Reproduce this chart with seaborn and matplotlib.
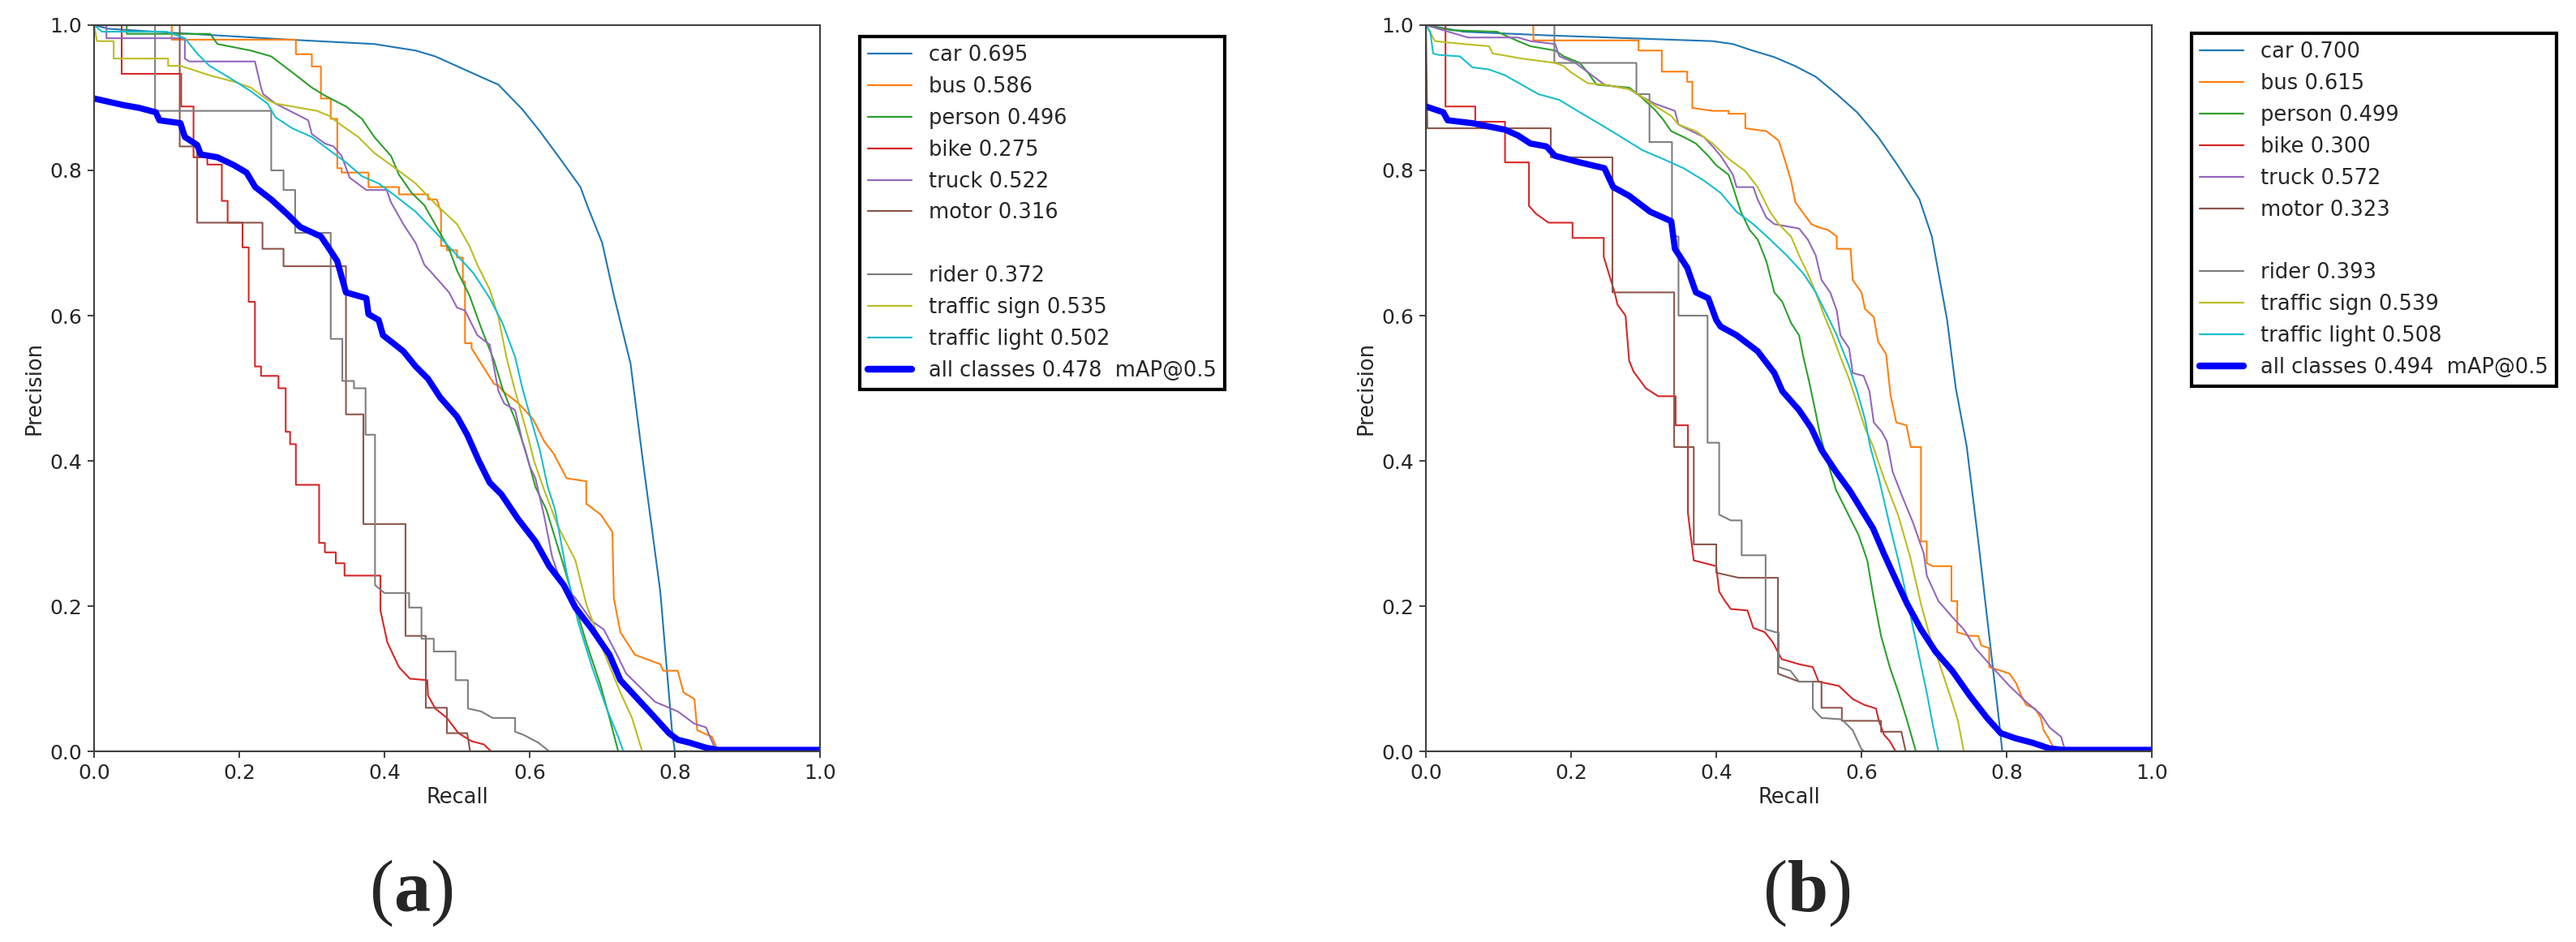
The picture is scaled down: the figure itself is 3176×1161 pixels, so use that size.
import numpy as np
import pandas as pd
import matplotlib
matplotlib.use("Agg")
import matplotlib.pyplot as plt
from matplotlib.lines import Line2D
import seaborn as sns

# %%

names = ['car', 'bus', 'person', 'bike', 'truck', 'motor', 'rider', 'traffic sign', 'traffic light']
ap_a = [0.695, 0.586, 0.496, 0.275, 0.522, 0.316, 0.372, 0.535, 0.502]
ap_b = [0.700, 0.615, 0.499, 0.300, 0.572, 0.323, 0.393, 0.539, 0.508]
map_a = 0.478
map_b = 0.494

# %%
# (recall, precision) points

a_car = [(0, 1.0), (0.02, 0.995), (0.1, 0.99), (0.27, 0.98), (0.386, 0.974), (0.443, 0.965), (0.47, 0.957),
         (0.53, 0.93), (0.557, 0.918), (0.59, 0.884), (0.614, 0.854), (0.642, 0.816), (0.67, 0.777), (0.68, 0.75),
         (0.70, 0.70), (0.716, 0.628), (0.739, 0.534), (0.756, 0.40), (0.78, 0.22), (0.796, 0.03), (0.80, 0.0), (1.0, 0.0)]
a_bus = [(0, 1.0), (0.107, 1.0), (0.107, 0.98), (0.278, 0.98), (0.278, 0.96), (0.30, 0.96), (0.30, 0.943), (0.3125, 0.943),
         (0.3125, 0.899), (0.326, 0.899), (0.326, 0.871), (0.335, 0.871), (0.335, 0.803), (0.341, 0.803), (0.341, 0.797),
         (0.378, 0.797), (0.378, 0.777), (0.42, 0.777), (0.42, 0.767), (0.46, 0.767), (0.46, 0.76), (0.472, 0.76),
         (0.478, 0.743), (0.478, 0.696), (0.486, 0.696), (0.486, 0.69), (0.5, 0.69), (0.5, 0.68), (0.508, 0.68),
         (0.508, 0.647), (0.511, 0.647), (0.511, 0.562), (0.52, 0.562), (0.52, 0.555), (0.551, 0.506), (0.557, 0.504),
         (0.563, 0.496), (0.585, 0.479), (0.605, 0.457), (0.62, 0.427), (0.633, 0.41), (0.651, 0.376), (0.678, 0.372),
         (0.678, 0.341), (0.698, 0.326), (0.714, 0.302), (0.716, 0.211), (0.725, 0.164), (0.745, 0.133), (0.78, 0.12),
         (0.784, 0.111), (0.804, 0.111), (0.812, 0.081), (0.827, 0.072), (0.831, 0.029), (0.851, 0.02), (0.86, 0.0), (1.0, 0.0)]
a_person = [(0, 1.0), (0.045, 1.0), (0.045, 0.988), (0.16, 0.988), (0.17, 0.974), (0.216, 0.965), (0.244, 0.957),
            (0.273, 0.935), (0.30, 0.914), (0.318, 0.903), (0.347, 0.888), (0.369, 0.871), (0.386, 0.846), (0.409, 0.82),
            (0.42, 0.794), (0.4375, 0.769), (0.455, 0.752), (0.472, 0.722), (0.489, 0.692), (0.50, 0.662), (0.517, 0.628),
            (0.534, 0.581), (0.551, 0.538), (0.5625, 0.50), (0.58, 0.457), (0.594, 0.415), (0.608, 0.364), (0.623, 0.333),
            (0.647, 0.255), (0.663, 0.20), (0.678, 0.15), (0.698, 0.09), (0.71, 0.046), (0.722, 0.0), (1.0, 0.0)]
a_bike = [(0, 1.0), (0.038, 1.0), (0.038, 0.933), (0.12, 0.933), (0.12, 0.888), (0.137, 0.888), (0.137, 0.818),
          (0.156, 0.818), (0.156, 0.808), (0.176, 0.808), (0.176, 0.758), (0.184, 0.758), (0.184, 0.728), (0.2045, 0.728),
          (0.2045, 0.694), (0.213, 0.694), (0.213, 0.619), (0.2216, 0.619), (0.2216, 0.53), (0.23, 0.53), (0.23, 0.517),
          (0.254, 0.517), (0.254, 0.50), (0.264, 0.50), (0.264, 0.44), (0.27, 0.44), (0.27, 0.423), (0.278, 0.423),
          (0.278, 0.367), (0.31, 0.367), (0.31, 0.287), (0.318, 0.287), (0.318, 0.274), (0.333, 0.274), (0.333, 0.259),
          (0.345, 0.259), (0.345, 0.242), (0.3945, 0.242), (0.3945, 0.194), (0.404, 0.15), (0.412, 0.133), (0.42, 0.116),
          (0.435, 0.10), (0.459, 0.098), (0.46, 0.077), (0.47, 0.059), (0.486, 0.046), (0.502, 0.025), (0.52, 0.014),
          (0.537, 0.0095), (0.547, 0.0), (1.0, 0.0)]
a_truck = [(0, 1.0), (0.017, 1.0), (0.017, 0.982), (0.125, 0.982), (0.125, 0.954), (0.131, 0.95), (0.2216, 0.95),
           (0.23, 0.914), (0.233, 0.905), (0.25, 0.892), (0.295, 0.869), (0.30, 0.85), (0.318, 0.837), (0.33, 0.833),
           (0.341, 0.82), (0.352, 0.79), (0.375, 0.773), (0.403, 0.773), (0.409, 0.756), (0.426, 0.726), (0.443, 0.70),
           (0.455, 0.67), (0.466, 0.658), (0.489, 0.632), (0.50, 0.611), (0.511, 0.607), (0.528, 0.573), (0.545, 0.56),
           (0.557, 0.496), (0.565, 0.479), (0.58, 0.47), (0.59, 0.427), (0.60, 0.393), (0.608, 0.376), (0.62, 0.324),
           (0.631, 0.268), (0.643, 0.233), (0.663, 0.211), (0.686, 0.179), (0.702, 0.168), (0.718, 0.1375), (0.733, 0.107),
           (0.773, 0.068), (0.804, 0.055), (0.827, 0.038), (0.843, 0.033), (0.857, 0.0), (1.0, 0.0)]
a_motor = [(0, 1.0), (0.118, 1.0), (0.118, 0.833), (0.142, 0.833), (0.142, 0.728), (0.232, 0.728), (0.232, 0.692),
           (0.261, 0.692), (0.261, 0.668), (0.347, 0.668), (0.347, 0.464), (0.371, 0.464), (0.371, 0.313), (0.429, 0.313),
           (0.429, 0.159), (0.457, 0.159), (0.457, 0.06), (0.486, 0.06), (0.486, 0.025), (0.514, 0.025), (0.518, 0.0), (1.0, 0.0)]
a_rider = [(0, 1.0), (0.084, 1.0), (0.084, 0.882), (0.244, 0.882), (0.244, 0.80), (0.261, 0.80), (0.261, 0.773),
           (0.277, 0.773), (0.277, 0.714), (0.326, 0.714), (0.326, 0.568), (0.342, 0.568), (0.342, 0.51), (0.358, 0.51),
           (0.358, 0.50), (0.374, 0.50), (0.374, 0.436), (0.387, 0.436), (0.387, 0.229), (0.40, 0.218), (0.434, 0.218),
           (0.434, 0.198), (0.451, 0.198), (0.451, 0.155), (0.468, 0.155), (0.468, 0.1375), (0.498, 0.1375), (0.498, 0.098),
           (0.515, 0.098), (0.515, 0.059), (0.533, 0.055), (0.549, 0.046), (0.58, 0.046), (0.58, 0.027), (0.592, 0.0225),
           (0.612, 0.012), (0.627, 0.0), (1.0, 0.0)]
a_sign = [(0, 1.0), (0.004, 0.978), (0.027, 0.978), (0.027, 0.954), (0.102, 0.954), (0.102, 0.944), (0.119, 0.944),
          (0.159, 0.931), (0.193, 0.922), (0.216, 0.914), (0.239, 0.897), (0.25, 0.892), (0.273, 0.888), (0.307, 0.882),
          (0.324, 0.875), (0.341, 0.862), (0.364, 0.846), (0.386, 0.824), (0.415, 0.803), (0.443, 0.782), (0.472, 0.752),
          (0.50, 0.726), (0.517, 0.696), (0.528, 0.67), (0.545, 0.636), (0.557, 0.598), (0.568, 0.543), (0.58, 0.496),
          (0.597, 0.436), (0.606, 0.40), (0.62, 0.36), (0.639, 0.31), (0.663, 0.263), (0.678, 0.203), (0.702, 0.1375),
          (0.725, 0.081), (0.741, 0.046), (0.749, 0.02), (0.755, 0.0), (1.0, 0.0)]
a_light = [(0, 1.0), (0.011, 0.991), (0.10, 0.991), (0.125, 0.982), (0.142, 0.961), (0.159, 0.944), (0.1875, 0.927),
           (0.216, 0.909), (0.239, 0.892), (0.25, 0.873), (0.273, 0.858), (0.30, 0.846), (0.324, 0.828), (0.347, 0.811),
           (0.369, 0.792), (0.392, 0.782), (0.415, 0.765), (0.443, 0.743), (0.472, 0.713), (0.50, 0.683), (0.523, 0.658),
           (0.545, 0.624), (0.5625, 0.59), (0.58, 0.543), (0.59, 0.50), (0.602, 0.457), (0.614, 0.415), (0.625, 0.364),
           (0.635, 0.333), (0.651, 0.246), (0.667, 0.177), (0.686, 0.116), (0.706, 0.059), (0.722, 0.02), (0.729, 0.0), (1.0, 0.0)]
a_all = [(0, 0.899), (0.04, 0.89), (0.0625, 0.886), (0.085, 0.88), (0.09, 0.869), (0.119, 0.865), (0.125, 0.846),
         (0.142, 0.835), (0.147, 0.822), (0.17, 0.818), (0.193, 0.807), (0.21, 0.797), (0.222, 0.777), (0.244, 0.76),
         (0.267, 0.739), (0.284, 0.722), (0.3125, 0.709), (0.324, 0.692), (0.335, 0.675), (0.347, 0.632), (0.375, 0.624),
         (0.378, 0.602), (0.392, 0.594), (0.398, 0.573), (0.426, 0.551), (0.443, 0.53), (0.46, 0.513), (0.477, 0.487),
         (0.50, 0.461), (0.514, 0.436), (0.53, 0.40), (0.545, 0.37), (0.561, 0.354), (0.584, 0.32), (0.608, 0.289),
         (0.627, 0.255), (0.647, 0.229), (0.663, 0.198), (0.686, 0.168), (0.71, 0.133), (0.725, 0.098), (0.749, 0.072),
         (0.773, 0.046), (0.792, 0.025), (0.804, 0.016), (0.82, 0.012), (0.843, 0.005), (0.859, 0.002), (1.0, 0.002)]

# %%
# (recall, precision) points

b_car = [(0, 1.0), (0.052, 0.991), (0.166, 0.986), (0.28, 0.982), (0.395, 0.978), (0.423, 0.974), (0.45, 0.965),
         (0.48, 0.956), (0.508, 0.944), (0.537, 0.929), (0.566, 0.905), (0.594, 0.88), (0.623, 0.846), (0.65, 0.807),
         (0.68, 0.76), (0.697, 0.709), (0.708, 0.649), (0.718, 0.594), (0.73, 0.50), (0.745, 0.42), (0.761, 0.289),
         (0.776, 0.159), (0.79, 0.038), (0.794, 0.0), (1.0, 0.0)]
b_bus = [(0, 1.0), (0.148, 1.0), (0.148, 0.979), (0.293, 0.979), (0.293, 0.965), (0.325, 0.965), (0.325, 0.936),
         (0.36, 0.936), (0.36, 0.922), (0.367, 0.922), (0.367, 0.886), (0.395, 0.882), (0.417, 0.882), (0.417, 0.878),
         (0.44, 0.878), (0.44, 0.858), (0.469, 0.854), (0.486, 0.841), (0.494, 0.816), (0.503, 0.786), (0.509, 0.756),
         (0.531, 0.726), (0.54, 0.722), (0.554, 0.718), (0.566, 0.709), (0.566, 0.692), (0.585, 0.692), (0.588, 0.649),
         (0.60, 0.632), (0.605, 0.609), (0.617, 0.598), (0.623, 0.564), (0.634, 0.547), (0.64, 0.491), (0.648, 0.453),
         (0.662, 0.449), (0.668, 0.419), (0.682, 0.419), (0.682, 0.289), (0.69, 0.289), (0.69, 0.259), (0.698, 0.255),
         (0.724, 0.255), (0.724, 0.207), (0.732, 0.207), (0.732, 0.164), (0.749, 0.159), (0.761, 0.159), (0.765, 0.146),
         (0.776, 0.142), (0.776, 0.116), (0.792, 0.111), (0.804, 0.107), (0.813, 0.094), (0.82, 0.077), (0.827, 0.064),
         (0.839, 0.059), (0.847, 0.046), (0.851, 0.029), (0.859, 0.016), (0.867, 0.0), (1.0, 0.0)]
b_person = [(0, 1.0), (0.035, 0.993), (0.098, 0.991), (0.127, 0.978), (0.144, 0.971), (0.178, 0.965), (0.19, 0.957),
            (0.212, 0.948), (0.223, 0.935), (0.235, 0.918), (0.28, 0.914), (0.292, 0.905), (0.315, 0.884), (0.326, 0.871),
            (0.338, 0.854), (0.355, 0.846), (0.372, 0.837), (0.389, 0.82), (0.40, 0.807), (0.417, 0.794), (0.423, 0.777),
            (0.434, 0.743), (0.446, 0.718), (0.457, 0.705), (0.469, 0.675), (0.48, 0.632), (0.491, 0.619), (0.503, 0.59),
            (0.514, 0.573), (0.52, 0.543), (0.528, 0.509), (0.537, 0.466), (0.543, 0.436), (0.553, 0.40), (0.565, 0.36),
            (0.58, 0.33), (0.596, 0.298), (0.608, 0.263), (0.616, 0.216), (0.627, 0.159), (0.639, 0.116), (0.651, 0.081),
            (0.663, 0.042), (0.675, 0.0), (1.0, 0.0)]
b_bike = [(0, 1.0), (0.027, 1.0), (0.027, 0.888), (0.068, 0.888), (0.068, 0.867), (0.109, 0.867), (0.109, 0.811),
          (0.142, 0.811), (0.142, 0.751), (0.152, 0.74), (0.169, 0.728), (0.202, 0.728), (0.202, 0.707), (0.245, 0.707),
          (0.245, 0.681), (0.252, 0.658), (0.26, 0.632), (0.264, 0.615), (0.275, 0.60), (0.28, 0.538), (0.286, 0.523),
          (0.303, 0.50), (0.32, 0.489), (0.344, 0.489), (0.344, 0.449), (0.361, 0.449), (0.361, 0.328), (0.369, 0.263),
          (0.40, 0.255), (0.404, 0.22), (0.412, 0.207), (0.42, 0.196), (0.443, 0.194), (0.451, 0.17), (0.467, 0.164),
          (0.478, 0.15), (0.49, 0.127), (0.514, 0.12), (0.533, 0.116), (0.541, 0.096), (0.569, 0.09), (0.588, 0.072),
          (0.604, 0.064), (0.62, 0.059), (0.624, 0.042), (0.631, 0.023), (0.639, 0.014), (0.647, 0.0), (1.0, 0.0)]
b_truck = [(0, 1.0), (0.058, 0.983), (0.127, 0.983), (0.144, 0.978), (0.178, 0.974), (0.184, 0.957), (0.206, 0.948),
           (0.218, 0.939), (0.246, 0.918), (0.28, 0.912), (0.298, 0.901), (0.315, 0.892), (0.343, 0.882), (0.348, 0.863),
           (0.366, 0.854), (0.383, 0.846), (0.395, 0.833), (0.406, 0.82), (0.423, 0.794), (0.428, 0.777), (0.451, 0.777),
           (0.457, 0.76), (0.469, 0.735), (0.48, 0.726), (0.514, 0.72), (0.526, 0.705), (0.537, 0.683), (0.545, 0.649),
           (0.557, 0.632), (0.566, 0.607), (0.571, 0.573), (0.583, 0.555), (0.588, 0.521), (0.603, 0.517), (0.611, 0.496),
           (0.617, 0.453), (0.628, 0.44), (0.635, 0.427), (0.643, 0.385), (0.655, 0.354), (0.671, 0.315), (0.686, 0.272),
           (0.69, 0.242), (0.706, 0.207), (0.725, 0.185), (0.741, 0.168), (0.757, 0.142), (0.78, 0.116), (0.804, 0.09),
           (0.827, 0.068), (0.847, 0.051), (0.859, 0.033), (0.875, 0.02), (0.881, 0.0), (1.0, 0.0)]
b_motor = [(0, 1.0), (0.002, 0.858), (0.172, 0.858), (0.172, 0.818), (0.257, 0.818), (0.257, 0.632), (0.342, 0.632),
           (0.342, 0.419), (0.369, 0.419), (0.369, 0.285), (0.40, 0.285), (0.40, 0.246), (0.431, 0.239), (0.485, 0.239),
           (0.485, 0.107), (0.514, 0.096), (0.545, 0.096), (0.545, 0.06), (0.573, 0.06), (0.573, 0.042), (0.627, 0.042),
           (0.627, 0.027), (0.655, 0.027), (0.661, 0.0), (1.0, 0.0)]
b_rider = [(0, 1.0), (0.177, 1.0), (0.177, 0.948), (0.29, 0.948), (0.29, 0.905), (0.308, 0.905), (0.308, 0.839),
           (0.339, 0.839), (0.339, 0.709), (0.348, 0.709), (0.348, 0.60), (0.388, 0.60), (0.388, 0.425), (0.404, 0.425),
           (0.404, 0.326), (0.42, 0.318), (0.435, 0.318), (0.435, 0.27), (0.468, 0.27), (0.468, 0.168), (0.482, 0.164),
           (0.486, 0.164), (0.486, 0.116), (0.502, 0.111), (0.514, 0.096), (0.533, 0.096), (0.533, 0.059), (0.545, 0.046),
           (0.573, 0.044), (0.588, 0.029), (0.60, 0.003), (0.604, 0.0), (1.0, 0.0)]
b_sign = [(0, 1.0), (0.0125, 0.978), (0.052, 0.974), (0.087, 0.971), (0.092, 0.961), (0.104, 0.959), (0.132, 0.954),
          (0.178, 0.948), (0.189, 0.944), (0.20, 0.935), (0.223, 0.92), (0.246, 0.918), (0.28, 0.912), (0.298, 0.901),
          (0.32, 0.886), (0.338, 0.875), (0.348, 0.863), (0.372, 0.854), (0.395, 0.837), (0.417, 0.816), (0.44, 0.799),
          (0.457, 0.777), (0.474, 0.743), (0.486, 0.726), (0.503, 0.709), (0.514, 0.683), (0.526, 0.658), (0.537, 0.632),
          (0.548, 0.602), (0.56, 0.573), (0.571, 0.543), (0.583, 0.513), (0.594, 0.479), (0.605, 0.445), (0.616, 0.42),
          (0.631, 0.376), (0.651, 0.324), (0.667, 0.268), (0.682, 0.203), (0.694, 0.159), (0.706, 0.125), (0.722, 0.077),
          (0.733, 0.042), (0.741, 0.0), (1.0, 0.0)]
b_light = [(0, 1.0), (0.006, 0.991), (0.01, 0.961), (0.018, 0.959), (0.047, 0.957), (0.064, 0.942), (0.087, 0.939),
           (0.109, 0.931), (0.132, 0.918), (0.155, 0.905), (0.184, 0.897), (0.212, 0.88), (0.241, 0.863), (0.269, 0.846),
           (0.298, 0.828), (0.326, 0.816), (0.355, 0.803), (0.383, 0.786), (0.406, 0.769), (0.428, 0.743), (0.451, 0.726),
           (0.474, 0.705), (0.497, 0.683), (0.52, 0.658), (0.537, 0.632), (0.554, 0.598), (0.566, 0.573), (0.583, 0.53),
           (0.594, 0.496), (0.605, 0.457), (0.612, 0.42), (0.624, 0.376), (0.639, 0.311), (0.655, 0.246), (0.667, 0.19),
           (0.678, 0.1375), (0.69, 0.081), (0.698, 0.038), (0.706, 0.0), (1.0, 0.0)]
b_all = [(0, 0.888), (0.024, 0.88), (0.03, 0.869), (0.064, 0.865), (0.109, 0.856), (0.127, 0.848), (0.144, 0.837),
         (0.166, 0.833), (0.178, 0.82), (0.212, 0.811), (0.246, 0.803), (0.258, 0.777), (0.28, 0.765), (0.309, 0.743),
         (0.338, 0.73), (0.343, 0.692), (0.36, 0.666), (0.372, 0.632), (0.389, 0.624), (0.40, 0.594), (0.406, 0.585),
         (0.428, 0.573), (0.457, 0.551), (0.48, 0.521), (0.491, 0.496), (0.514, 0.47), (0.531, 0.445), (0.545, 0.415),
         (0.565, 0.385), (0.584, 0.359), (0.60, 0.333), (0.616, 0.307), (0.631, 0.272), (0.647, 0.237), (0.663, 0.203),
         (0.682, 0.168), (0.702, 0.1375), (0.725, 0.111), (0.749, 0.077), (0.773, 0.046), (0.792, 0.025), (0.812, 0.018),
         (0.835, 0.012), (0.859, 0.004), (0.878, 0.002), (1.0, 0.002)]

# %%

sns.set_style("ticks")
plt.rcParams['font.family'] = ['DejaVu Sans']
plt.rcParams['mathtext.fontset'] = 'custom'
plt.rcParams['mathtext.rm'] = 'Liberation Serif'
plt.rcParams['mathtext.bf'] = 'Liberation Serif:bold'

pal = sns.color_palette("tab10")
cls_colors = [pal[i] for i in (0, 1, 2, 3, 4, 5, 7, 8, 9)]

# %%

def pr_panel(ax, curves, all_curve, aps, map50, leg_anchor):
    handles, labels = [], []
    for i, pts in enumerate(curves):
        d = pd.DataFrame(pts, columns=['recall', 'precision'])
        sns.lineplot(data=d, x='recall', y='precision', ax=ax, color=cls_colors[i],
                     linewidth=1.5, sort=False, estimator=None)
        handles.append(Line2D([], [], color=cls_colors[i], lw=1.6))
        labels.append(f"{names[i]} {aps[i]:.3f}")
        if i == 5:
            # empty row in the legend
            handles.append(Line2D([], [], color='none'))
            labels.append(' ')
    d = pd.DataFrame(all_curve, columns=['recall', 'precision'])
    sns.lineplot(data=d, x='recall', y='precision', ax=ax, color='blue',
                 linewidth=5.5, sort=False, estimator=None)
    handles.append(Line2D([], [], color='blue', lw=6))
    labels.append(f"all classes {map50:.3f}  mAP@0.5")

    ax.set_xlim(0, 1)
    ax.set_ylim(0, 1)
    ax.set_xticks(np.arange(0, 1.01, 0.2))
    ax.set_yticks(np.arange(0, 1.01, 0.2))
    ax.set_xlabel('Recall', fontsize=18.5)
    ax.set_ylabel('Precision', fontsize=18.5)
    ax.tick_params(labelsize=18, length=5.5, width=1.4, pad=5, color='#404040')
    for s in ax.spines.values():
        s.set_linewidth(1.5)
        s.set_color('#404040')

    leg = ax.legend(handles, labels, loc='upper left', bbox_to_anchor=leg_anchor,
                    borderaxespad=0, fontsize=18.5, frameon=True, fancybox=False,
                    handlelength=2.1, handletextpad=0.8, labelspacing=0.5)
    leg.get_frame().set_edgecolor('black')
    leg.get_frame().set_linewidth(3)
    leg.get_frame().set_alpha(1)


fig = plt.figure(figsize=(31.76, 11.61), dpi=100)
ax1 = fig.add_axes([0.03652, 0.20241, 0.2818, 0.77089])
ax2 = fig.add_axes([0.55353, 0.20241, 0.2818, 0.77089])

pr_panel(ax1, [a_car, a_bus, a_person, a_bike, a_truck, a_motor, a_rider, a_sign, a_light],
         a_all, ap_a, map_a, (1.0547, 0.9844))
pr_panel(ax2, [b_car, b_bus, b_person, b_bike, b_truck, b_motor, b_rider, b_sign, b_light],
         b_all, ap_b, map_b, (1.0547, 0.9888))

fig.text(0.1595, 0.052, r'($\mathbf{a}$)', ha='center', va='center', fontsize=65, family='Liberation Serif')
fig.text(0.7011, 0.052, r'($\mathbf{b}$)', ha='center', va='center', fontsize=65, family='Liberation Serif')

fig.savefig('out.png', dpi=100)
